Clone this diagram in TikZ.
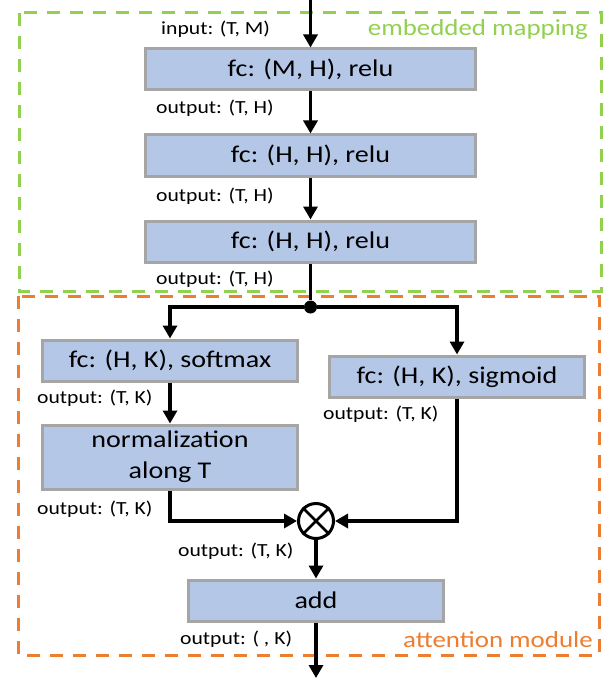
\documentclass[tikz,border=0pt]{standalone}
\usepackage{fontspec}
\setmainfont{Carlito}[FakeStretch=1.17]
\usetikzlibrary{arrows.meta}
\definecolor{layerfill}{HTML}{B4C7E7}
\definecolor{layerdraw}{HTML}{A5A5A5}
\definecolor{embedgreen}{HTML}{92D050}
\definecolor{attnorange}{HTML}{ED7D31}
\begin{document}
\begin{tikzpicture}[x=1pt,y=-1pt,layer/.style={draw=layerdraw,fill=layerfill,line width=3pt,minimum width=255pt,minimum height=41pt,inner sep=0pt,align=center,font=\fontsize{24}{31}\selectfont},widelayer/.style={layer,minimum width=330pt},shapelabel/.style={anchor=base west,inner sep=0pt,font=\fontsize{18.5}{22}\selectfont},grouplabel/.style={anchor=base east,inner sep=0pt,font=\fontsize{23}{28}\selectfont},group/.style={line width=3pt,dash pattern=on 13pt off 10pt},flow/.style={line width=3.5pt,-{Triangle[length=13pt,width=14pt]}},wire/.style={line width=3.5pt}]
\useasboundingbox (0,0) rectangle (610,679);

% dashed groups
\draw[group,embedgreen] (19,13) rectangle (601,291);
\draw[group,attnorange] (18,296) rectangle (599,655);
\node[grouplabel,text=embedgreen] (embedname) at (588,36) {embedded mapping};
\node[grouplabel,text=attnorange] (attnname) at (593,647) {attention module};

% embedded mapping
\coordinate (in) at (310.5,0);
\node[widelayer] (fc1) at (310.5,69.5) {fc: (M, H), relu};
\node[widelayer] (fc2) at (310.5,155.5) {fc: (H, H), relu};
\node[widelayer] (fc3) at (310.5,241.5) {fc: (H, H), relu};
\node[circle,fill,inner sep=0pt,minimum size=13pt] (split) at (310.5,307) {};

% attention module
\node[layer] (soft) at (170,360.5) {fc: (H, K), softmax};
\node[layer] (sig) at (457,376.5) {fc: (H, K), sigmoid};
\node[layer,minimum height=64pt] (norm) at (170,457) {normalization\\along T};
\node[circle,draw,line width=3pt,minimum size=35pt,inner sep=0pt] (mul) at (316,521) {};
\draw[line width=2.5pt] (mul.north west) -- (mul.south east) (mul.north east) -- (mul.south west);
\node[layer] (add) at (316,600.5) {add};
\coordinate (out) at (316,678);

% connectors
\draw[flow] (in) -- (fc1);
\draw[flow] (fc1) -- (fc2);
\draw[flow] (fc2) -- (fc3);
\draw[wire] (fc3) -- (split);
\draw[flow] (split) -| (soft.north);
\draw[flow] (split) -| (sig.north);
\draw[flow] (soft) -- (norm);
\draw[flow] (norm.south) |- (mul.west);
\draw[flow] (sig.south) |- (mul.east);
\draw[flow] (mul) -- (add);
\draw[flow] (add) -- (out);

% shapes
\node[shapelabel] (inshape) at (161,35) {input: (T, M)};
\node[shapelabel] (fc1shape) at (156,114) {output: (T, H)};
\node[shapelabel] (fc2shape) at (156,201) {output: (T, H)};
\node[shapelabel] (fc3shape) at (156,284) {output: (T, H)};
\node[shapelabel] (softshape) at (37,403) {output: (T, K)};
\node[shapelabel] (sigshape) at (323,419) {output: (T, K)};
\node[shapelabel] (normshape) at (37,514) {output: (T, K)};
\node[shapelabel] (mulshape) at (178,556) {output: (T, K)};
\node[shapelabel] (addshape) at (180,644) {output: ( , K)};
\end{tikzpicture}
\end{document}
